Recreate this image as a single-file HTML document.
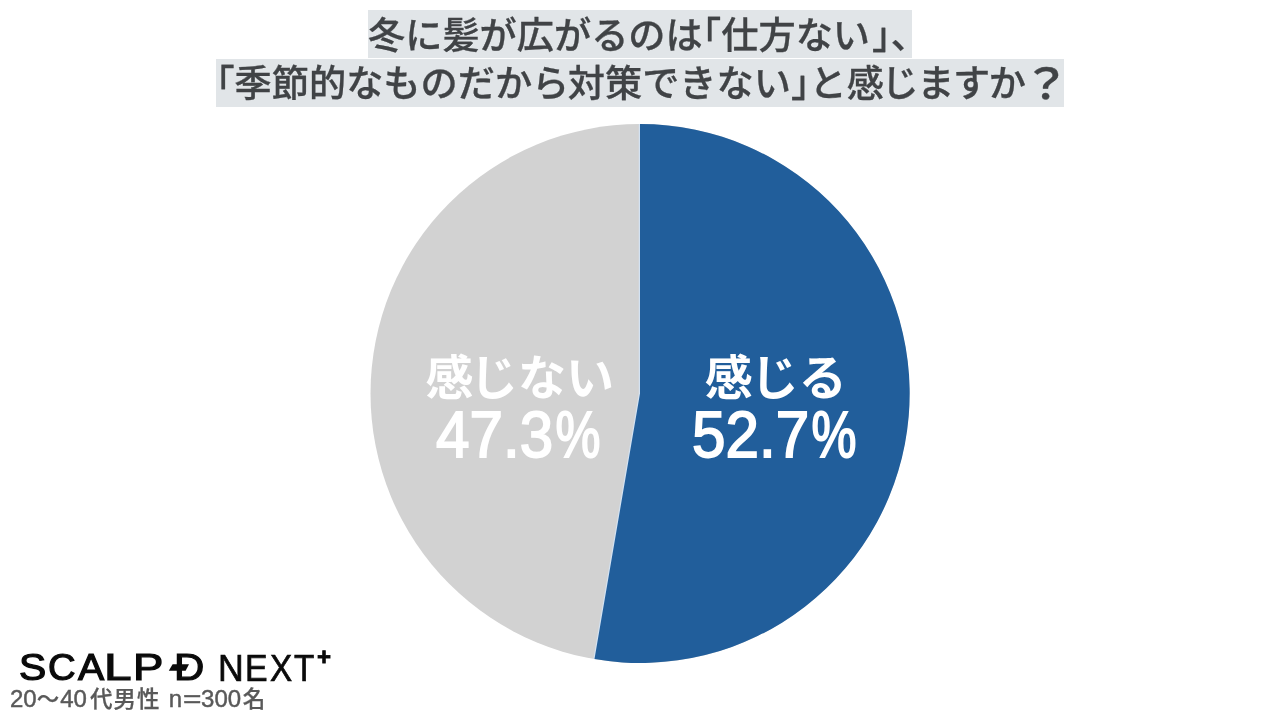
<!DOCTYPE html>
<html lang="ja">
<head>
<meta charset="utf-8">
<title>冬に髪が広がるのは仕方ない</title>
<style>
html,body{margin:0;padding:0;}
body{width:1280px;height:720px;overflow:hidden;background:#fff;position:relative;font-family:"Liberation Sans","Noto Sans CJK JP",sans-serif;}
.tl{position:absolute;background:#e1e5e8;color:#404346;font-size:37.2px;line-height:48px;white-space:nowrap;text-align:left;font-weight:500;box-sizing:border-box;padding-top:1.25px;-webkit-text-stroke:0.3px #404346;}
.tl i{font-style:normal;font-feature-settings:"halt";}
.tl em{font-style:normal;display:inline-block;transform-origin:28% 85%;transform:translateY(2.5px) scale(1.3,1.14);}
#t1{left:368px;top:10.25px;width:543.6px;height:47.9px;}
#t2{left:216px;top:58.75px;width:848px;height:47.75px;padding-top:1.7px;}
#pie{position:absolute;left:0;top:0;}
.lab{position:absolute;color:#fff;font-weight:700;white-space:nowrap;text-align:center;}
.jp{font-size:48px;line-height:48px;}
.jp u{text-decoration:none;position:relative;left:3.5px;}
.num{font-size:64px;line-height:64px;font-weight:400;-webkit-text-stroke:1.8px #fff;transform:scaleX(0.94);}
.num b{display:inline-block;font-weight:400;-webkit-text-stroke:1.9px #fff;transform-origin:0 50%;transform:scaleX(0.84);margin-left:3px;margin-right:-10px;}
#foot{position:absolute;left:10px;top:684.4px;font-size:24px;line-height:30px;color:#595959;white-space:nowrap;font-weight:400;-webkit-text-stroke:0.45px #595959;}
#foot span{font-size:22.5px;font-weight:500;letter-spacing:1px;-webkit-text-stroke:0.25px #595959;}
#foot b{font-weight:400;display:inline-block;transform-origin:0 50%;transform:scaleX(1.32);margin:0 4px 0 1px;}
#logo{position:absolute;left:0;top:0;color:#0a0a0a;font-size:37px;line-height:1;font-weight:400;-webkit-text-stroke:1.2px #0a0a0a;white-space:nowrap;}
#logo span{position:absolute;top:649.4px;transform-origin:0 0;}
#logo .n{font-size:36px;top:650.6px;-webkit-text-stroke:0.7px #0a0a0a;}
#logo .p{font-size:24px;font-weight:700;top:645.4px;-webkit-text-stroke:0.8px #0a0a0a;}
#dash{position:absolute;left:168px;top:664px;}
</style>
</head>
<body>
<div class="tl" id="t1">冬に髪が広がるのは<i>「</i>仕方ない<i style="margin-left:2px">」、</i></div>
<div class="tl" id="t2"><i>「</i>季節的なものだから<span style="margin-left:-1.5px">対策できない<i>」</i>と感</span><span style="margin-left:-2.5px;letter-spacing:-1.4px">じますか<em>？</em></span></div>
<svg id="pie" width="1280" height="720" viewBox="0 0 1280 720">
  <circle cx="640" cy="393.5" r="269.5" fill="#d2d2d2"/>
  <path d="M640 124 L640 393.5 L594.5 659.1" fill="none" stroke="#d3e2f2" stroke-width="2.4"/>
  <path d="M640 393.5 L640 124 A269.5 269.5 0 1 1 594.5 659.1 Z" fill="#215e9b"/>
</svg>
<div class="lab jp" id="l1" style="left:418px;top:355.3px;width:200px;"><u>感</u>じない</div>
<div class="lab num" id="l1n" style="left:418px;top:402.5px;width:200px;">47.3<b>%</b></div>
<div class="lab jp" id="l2" style="left:674.75px;top:355.3px;width:200px;"><u style="left:2px">感</u>じる</div>
<div class="lab num" id="l2n" style="left:674px;top:402.5px;width:200px;">52.7<b>%</b></div>
<div id="logo"><span style="left:19.4px;transform:scaleX(1.104)">S</span><span style="left:47.97px;transform:scaleX(1.032)">C</span><span style="left:77.5px;transform:scaleX(1.06)">A</span><span style="left:103.7px;transform:scaleX(1.339)">L</span><span style="left:132.6px;transform:scaleX(1.229)">P</span> <span style="left:173.6px;transform:scaleX(1.133)">D</span> <span class="n" style="left:217.9px;transform:scaleX(0.99)">N</span><span class="n" style="left:244.8px;transform:scaleX(0.94)">E</span><span class="n" style="left:270.1px;transform:scaleX(0.923)">X</span><span class="n" style="left:294.3px;transform:scaleX(0.923)">T</span><span class="p" style="left:317px;transform:scaleX(1)">+</span></div>
<svg id="dash" width="24" height="8" viewBox="0 0 24 8"><polygon points="0.8,6.8 4.6,0.2 21,0.2 17.6,6.8" fill="#0a0a0a"/></svg>
<div id="foot">20<span>～</span>40<span style="margin-left:3px">代男性</span><span style="margin-left:1px"> </span>n<b>=</b>300<span style="margin-left:1.5px">名</span></div>
</body>
</html>
